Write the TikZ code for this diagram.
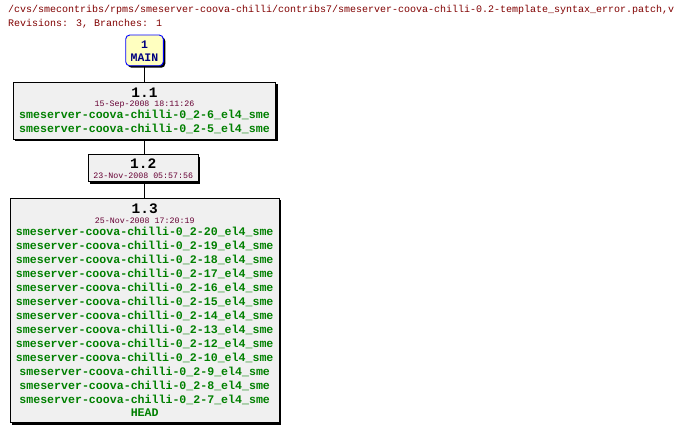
\documentclass[tikz,border=0pt]{standalone}
\usepackage{fontspec}
\setmainfont{Liberation Mono}
\setmonofont{Liberation Mono}
\usetikzlibrary{shadows}
\definecolor{hdr}{HTML}{800000}
\definecolor{datec}{HTML}{660033}
\definecolor{tagc}{HTML}{008000}
\definecolor{boxfill}{HTML}{F0F0F0}
\definecolor{mainfill}{HTML}{FFFFC0}
\definecolor{mainborder}{HTML}{0000FF}
\definecolor{maintext}{HTML}{000080}
\tikzset{
  revbox/.style={draw=black, line width=0.9pt, fill=boxfill, inner sep=0pt,
    drop shadow={shadow xshift=2pt, shadow yshift=-2pt, opacity=1, fill=black}},
  mainbox/.style={draw=mainborder, line width=0.9pt, fill=mainfill, rounded corners=4pt, inner sep=0pt,
    drop shadow={shadow xshift=2pt, shadow yshift=-2pt, opacity=1, fill=black}},
  hdrtxt/.style={anchor=west, inner sep=0pt, text=hdr, font=\fontsize{10}{12}\selectfont},
  revtxt/.style={inner sep=0pt, text=black, font=\fontsize{14.5}{16}\selectfont\bfseries},
  datetxt/.style={inner sep=0pt, text=datec, font=\fontsize{8.3}{10}\selectfont},
  tagtxt/.style={inner sep=0pt, text=tagc, font=\fontsize{11.6}{14}\selectfont\bfseries},
  maintxt/.style={inner sep=0pt, text=maintext, font=\fontsize{11.5}{14}\selectfont\bfseries},
  conn/.style={draw=black, line width=0.9pt}
}
\begin{document}
\begin{tikzpicture}[x=1pt,y=-1pt]
\useasboundingbox (0,0) rectangle (686,433);
% header
\node[hdrtxt] (h1) at (8,10) {/cvs/smecontribs/rpms/smeserver-coova-chilli/contribs7/smeserver-coova-chilli-0.2-template\_syntax\_error.patch,v};
\node[hdrtxt] (h2) at (8,24) {Revisions: 3, Branches: 1};
% boxes
\node[mainbox, minimum width=37.6pt, minimum height=30.7pt] (main) at (144.5,50.4) {};
\node[revbox, minimum width=262.4pt, minimum height=56.7pt] (r11) at (144.5,110.7) {};
\node[revbox, minimum width=110pt, minimum height=27pt] (r12) at (143.3,168.2) {};
\node[revbox, minimum width=268.8pt, minimum height=224.4pt] (r13) at (144.7,310.5) {};
% connectors
\draw[conn] (main.south) -- (main.south |- r11.north);
\draw[conn] (main.south |- r11.south) -- (main.south |- r12.north);
\draw[conn] (main.south |- r12.south) -- (main.south |- r13.north);
% MAIN texts
\node[maintxt] (m1) at (144.5,45) {1};
\node[maintxt] (m2) at (144.5,57.3) {MAIN};
% 1.1
\node[revtxt] (t11) at (144.5,92.3) {1.1};
\node[datetxt] (d11) at (144.5,104.2) {15-Sep-2008 18:11:26};
\node[tagtxt] (a1) at (144.5,114.8) {smeserver-coova-chilli-0\_2-6\_el4\_sme};
\node[tagtxt] (a2) at (144.5,129) {smeserver-coova-chilli-0\_2-5\_el4\_sme};
% 1.2
\node[revtxt] (t12) at (143.3,163.6) {1.2};
\node[datetxt] (d12) at (143.3,175.8) {23-Nov-2008 05:57:56};
% 1.3
\node[revtxt] (t13) at (144.7,208.5) {1.3};
\node[datetxt] (d13) at (144.7,220.3) {25-Nov-2008 17:20:19};
\node[tagtxt] (b1) at (144.7,231.7) {smeserver-coova-chilli-0\_2-20\_el4\_sme};
\node[tagtxt] (b2) at (144.7,245.7) {smeserver-coova-chilli-0\_2-19\_el4\_sme};
\node[tagtxt] (b3) at (144.7,259.7) {smeserver-coova-chilli-0\_2-18\_el4\_sme};
\node[tagtxt] (b4) at (144.7,273.7) {smeserver-coova-chilli-0\_2-17\_el4\_sme};
\node[tagtxt] (b5) at (144.7,287.7) {smeserver-coova-chilli-0\_2-16\_el4\_sme};
\node[tagtxt] (b6) at (144.7,301.7) {smeserver-coova-chilli-0\_2-15\_el4\_sme};
\node[tagtxt] (b7) at (144.7,315.7) {smeserver-coova-chilli-0\_2-14\_el4\_sme};
\node[tagtxt] (b8) at (144.7,329.7) {smeserver-coova-chilli-0\_2-13\_el4\_sme};
\node[tagtxt] (b9) at (144.7,343.7) {smeserver-coova-chilli-0\_2-12\_el4\_sme};
\node[tagtxt] (b10) at (144.7,357.7) {smeserver-coova-chilli-0\_2-10\_el4\_sme};
\node[tagtxt] (b11) at (144.7,371.7) {smeserver-coova-chilli-0\_2-9\_el4\_sme};
\node[tagtxt] (b12) at (144.7,385.7) {smeserver-coova-chilli-0\_2-8\_el4\_sme};
\node[tagtxt] (b13) at (144.7,399.7) {smeserver-coova-chilli-0\_2-7\_el4\_sme};
\node[tagtxt] (b14) at (144.7,413) {HEAD};
\end{tikzpicture}
\end{document}
